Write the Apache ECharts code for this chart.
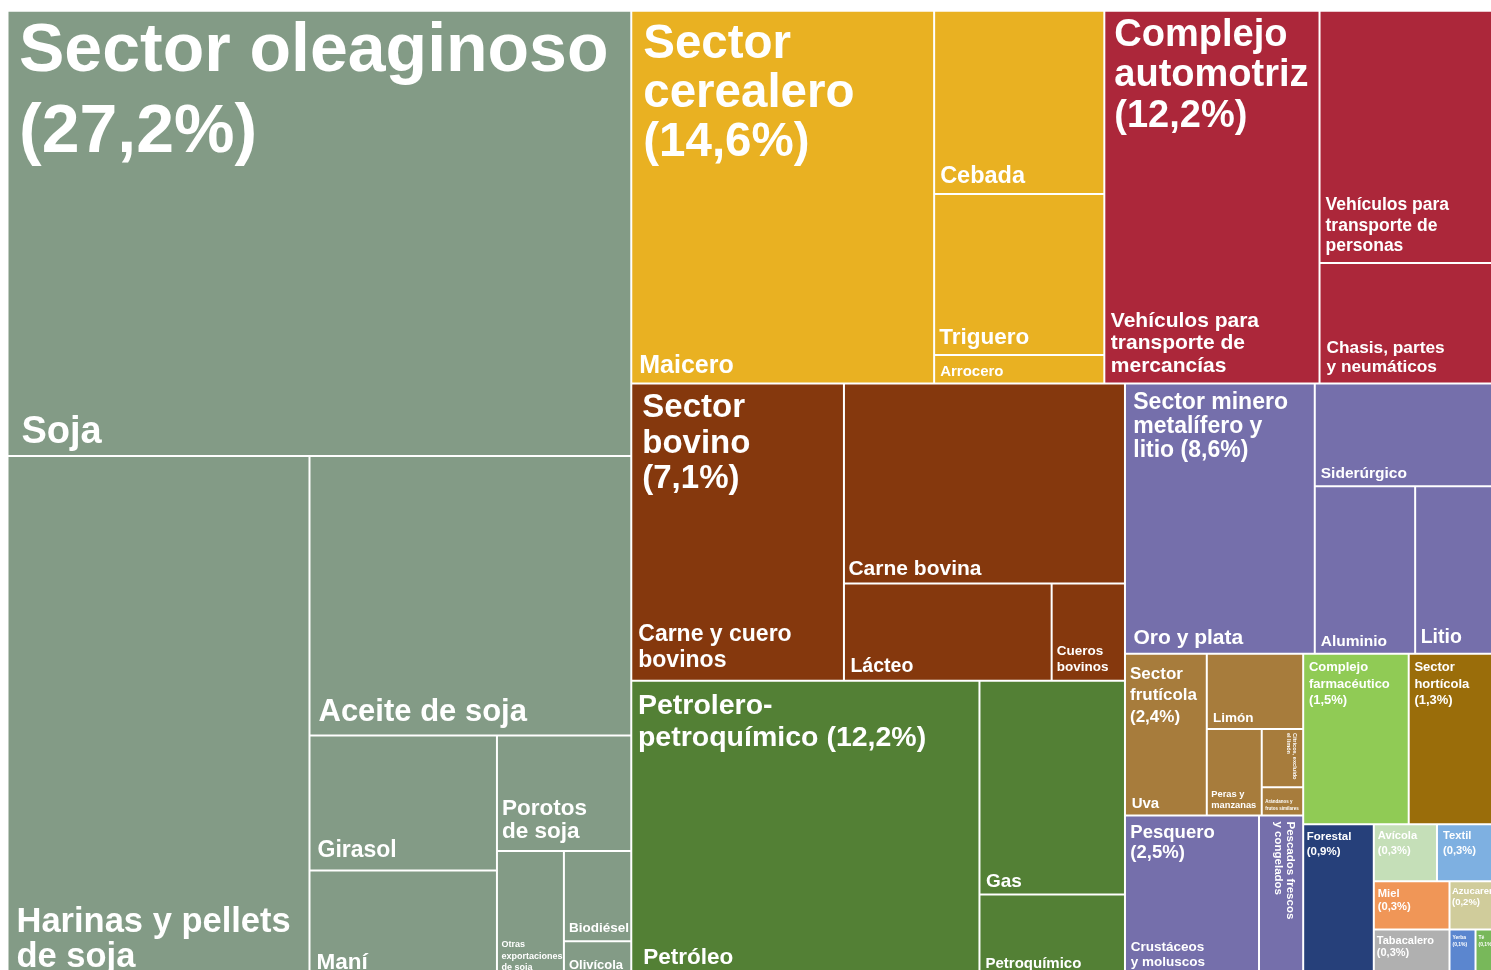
<!DOCTYPE html>
<html>
<head>
<meta charset="utf-8">
<title>Complejos exportadores</title>
<script src="https://cdn.jsdelivr.net/npm/echarts@6/dist/echarts.min.js"></script>
<style>
  html, body { margin: 0; padding: 0; background: #fff; overflow: hidden; }
  #chart { width: 1491px; height: 970px; }
</style>
</head>
<body>
<div id="chart"></div>
<script>
// sectors, in layout order
const sectors = ['Sector oleaginoso', 'Sector cerealero', 'Complejo automotriz', 'Sector bovino',
  'Petrolero-petroquímico', 'Sector minero metalífero y litio', 'Sector frutícola', 'Pesquero',
  'Complejo farmacéutico', 'Sector hortícola', 'Forestal', 'Avícola', 'Textil', 'Miel',
  'Tabacalero', 'Azucarero', 'Yerba', 'Té'];
const sectorShares = ['27,2%', '14,6%', '12,2%', '7,1%', '12,2%', '8,6%', '2,4%', '2,5%',
  '1,5%', '1,3%', '0,9%', '0,3%', '0,3%', '0,3%', '0,3%', '0,2%', '0,1%', '0,1%'];

// sub-items and their cell sizes (areas)
const oleaginosoItems = ['Soja', 'Harinas y pellets de soja', 'Aceite de soja', 'Girasol', 'Maní',
  'Porotos de soja', 'Otras exportaciones de soja', 'Biodiésel', 'Olivícola'];
const oleaginosoValues = [27778, 15764, 8994, 2529, 2017, 1552, 850, 608, 247];
const cerealeroItems = ['Maicero', 'Cebada', 'Triguero', 'Arrocero'];
const cerealeroValues = [11292, 3118, 2742, 485];
const automotrizItems = ['Vehículos para transporte de mercancías', 'Vehículos para transporte de personas',
  'Chasis, partes y neumáticos'];
const automotrizValues = [8024, 4568, 2179];
const bovinoItems = ['Carne y cuero bovinos', 'Carne bovina', 'Lácteo', 'Cueros bovinos'];
const bovinoValues = [6321, 5623, 2017, 712];
const petroleroItems = ['Petróleo', 'Gas', 'Petroquímico'];
const petroleroValues = [10352, 3111, 1215];
const mineroItems = ['Oro y plata', 'Siderúrgico', 'Aluminio', 'Litio'];
const mineroValues = [5130, 1908, 1682, 1430];
const fruticolaItems = ['Uva', 'Limón', 'Peras y manzanas', 'Cítricos, excluido el limón',
  'Arándanos y frutos similares'];
const fruticolaValues = [1323, 724, 476, 242, 117];
const pesqueroItems = ['Crustáceos y moluscos', 'Pescados frescos y congelados'];
const pesqueroValues = [2178, 718];
// sectors drawn as a single cell (Complejo farmacéutico ... Té)
const singleSectorValues = [1798, 1564, 1086, 361, 363, 365, 367, 246, 126, 121];

const sectorChildren = [
  [oleaginosoItems, oleaginosoValues], [cerealeroItems, cerealeroValues],
  [automotrizItems, automotrizValues], [bovinoItems, bovinoValues],
  [petroleroItems, petroleroValues], [mineroItems, mineroValues],
  [fruticolaItems, fruticolaValues], [pesqueroItems, pesqueroValues]
];

const sectorColors = ['#839b86', '#e9b122', '#ac273a', '#85380d', '#538035', '#756fab', '#a77c3c',
  '#756fab', '#90cb55', '#9a6d0a', '#26407a', '#c5dfb8', '#7eb0e1', '#f09657', '#b0b0b0',
  '#d0cc9b', '#5b86cf', '#78b85a'];

// how the titles break into lines (share is appended)
const titleWrap = ['Sector oleaginoso\n', 'Sector\ncerealero\n', 'Complejo\nautomotriz\n', 'Sector\nbovino\n',
  'Petrolero-\npetroquímico ', 'Sector minero\nmetalífero y\nlitio ', 'Sector\nfrutícola\n', 'Pesquero\n',
  'Complejo\nfarmacéutico\n', 'Sector\nhortícola\n', 'Forestal\n', 'Avícola\n', 'Textil\n', 'Miel\n',
  'Tabacalero\n', 'Azucarero\n', 'Yerba\n', 'Té\n'];

const itemWrap = {
  'Harinas y pellets de soja': 'Harinas y pellets\nde soja',
  'Porotos de soja': 'Porotos\nde soja',
  'Otras exportaciones de soja': 'Otras\nexportaciones\nde soja',
  'Vehículos para transporte de mercancías': 'Vehículos para\ntransporte de\nmercancías',
  'Vehículos para transporte de personas': 'Vehículos para\ntransporte de\npersonas',
  'Chasis, partes y neumáticos': 'Chasis, partes\ny neumáticos',
  'Carne y cuero bovinos': 'Carne y cuero\nbovinos',
  'Cueros bovinos': 'Cueros\nbovinos',
  'Peras y manzanas': 'Peras y\nmanzanas',
  'Cítricos, excluido el limón': 'Cítricos, excluido\nel limón',
  'Arándanos y frutos similares': 'Arándanos y\nfrutos similares',
  'Crustáceos y moluscos': 'Crustáceos\ny moluscos',
  'Pescados frescos y congelados': 'Pescados frescos\ny congelados'
};

// label look: [fontSize, lineHeight, padding, rotated]
const itemLabel = {
  'Soja': [38, 40, [0, 0, 4.6, 13]],
  'Harinas y pellets de soja': [34.5, 35, [0, 0, 4.5, 8]],
  'Aceite de soja': [31, 32, [0, 0, 8.3, 8]],
  'Girasol': [23, 24, [0, 0, 8.3, 7]],
  'Maní': [22.5, 24, [0, 0, 3.8, 6]],
  'Porotos de soja': [22.5, 23, [0, 0, 8, 4]],
  'Otras exportaciones de soja': [9, 11.5, [0, 0, 4, 3.5]],
  'Biodiésel': [13.5, 15, [0, 0, 5, 4]],
  'Olivícola': [13, 14, [0, 0, 5, 4]],
  'Maicero': [25, 26, [0, 0, 5.4, 7]],
  'Cebada': [23.5, 24, [0, 0, 6.2, 5]],
  'Triguero': [22.5, 24, [0, 0, 5.3, 4]],
  'Arrocero': [15, 16, [0, 0, 3.2, 5]],
  'Vehículos para transporte de mercancías': [21, 22.5, [0, 0, 6.5, 5.5]],
  'Vehículos para transporte de personas': [17.5, 20.5, [0, 0, 6.4, 5]],
  'Chasis, partes y neumáticos': [17.3, 19, [0, 0, 6.7, 6]],
  'Carne y cuero bovinos': [23, 26, [0, 0, 7.8, 6]],
  'Carne bovina': [21, 22, [0, 0, 3.3, 3.5]],
  'Lácteo': [19.5, 20, [0, 0, 4.8, 5.5]],
  'Cueros bovinos': [13.5, 16, [0, 0, 5.3, 4]],
  'Petróleo': [22.5, 24, [0, 0, 9, 11]],
  'Gas': [19, 20, [0, 0, 3, 5.5]],
  'Petroquímico': [15, 16, [0, 0, 6.6, 5]],
  'Oro y plata': [21, 22, [0, 0, 5, 7.5]],
  'Siderúrgico': [15.5, 16, [0, 0, 4.5, 5]],
  'Aluminio': [15.5, 16, [0, 0, 4.5, 5]],
  'Litio': [19.5, 20, [0, 0, 6.2, 4.5]],
  'Uva': [15, 16, [0, 0, 3.3, 5.7]],
  'Limón': [13.5, 14, [0, 0, 3.7, 5.3]],
  'Peras y manzanas': [9.3, 11.7, [0, 0, 3.5, 3.5]],
  'Cítricos, excluido el limón': [5.6, 6.5, [4, 0, 0, 3], true],
  'Arándanos y frutos similares': [4.5, 7.3, [0, 0, 2.3, 2.4]],
  'Crustáceos y moluscos': [13.5, 15, [0, 0, 7.8, 4.7]],
  'Pescados frescos y congelados': [11.5, 12.7, [4.6, 0, 0, 5], true]
};
// sector titles, written at the top left
const titleLabel = [
  [68, 81, [-4.5, 0, 0, 10.5]], [47.5, 49, [5.5, 0, 0, 11]], [38, 40.5, [1, 0, 0, 9]],
  [33, 35.5, [3.75, 0, 0, 10]], [28.5, 32, [7, 0, 0, 5.7]], [23, 24.3, [4.15, 0, 0, 7.3]],
  [17, 21.8, [7.1, 0, 0, 4]], [18.5, 20, [5, 0, 0, 4.4]],
  [13, 16.5, [3.75, 0, 0, 4.7]], [13, 16.5, [3.75, 0, 0, 4.7]], [11.5, 15, [3.5, 0, 0, 2.5]],
  [11.2, 14.7, [3, 0, 0, 3]], [11.2, 14.7, [3, 0, 0, 5]], [11.2, 13.4, [3.9, 0, 0, 3]],
  [11, 12.7, [3, 0, 0, 2]], [9.5, 10.7, [3, 0, 0, 1.5]], [5, 6.3, [3.9, 0, 0, 2]], [5, 6.3, [3.9, 0, 0, 2]]
];

const font = "'Liberation Sans', Arial, Helvetica, sans-serif";
const clear = 'rgba(0,0,0,0)';

function makeLabel(text, spec, position) {
  const fs = spec[0];
  const pad = spec[2].slice();
  // glyphs sit a little above the middle of the line box
  const lift = 0.065 * fs;
  const lab = { show: true, formatter: text, position: position, fontSize: fs, lineHeight: spec[1] };
  if (spec[3]) {
    // read top to bottom
    lab.position = 'insideTopRight';
    lab.rotate = -90;
    lab.align = 'left';
    lab.verticalAlign = 'top';
    pad[0] += lift;
  } else if (position === 'insideTopLeft') {
    pad[0] += lift;
  } else {
    pad[2] -= lift;
  }
  lab.padding = pad;
  return lab;
}

function titleOf(i) {
  return titleWrap[i] + '(' + sectorShares[i] + ')';
}

// cells layer (withTitles=false) or sector-title layer (withTitles=true)
function buildData(withTitles) {
  return sectors.map(function (name, i) {
    const style = withTitles ? { color: clear, borderColor: clear } : { color: sectorColors[i] };
    if (i >= sectorChildren.length) {
      return {
        name: name, value: singleSectorValues[i - sectorChildren.length], itemStyle: style,
        label: withTitles ? { show: false } : makeLabel(titleOf(i), titleLabel[i], 'insideTopLeft')
      };
    }
    const names = sectorChildren[i][0];
    const vals = sectorChildren[i][1];
    return {
      name: name, itemStyle: style,
      children: names.map(function (n, j) {
        let label;
        if (withTitles) {
          label = j === 0 ? makeLabel(titleOf(i), titleLabel[i], 'insideTopLeft') : { show: false };
        } else {
          label = makeLabel(itemWrap[n] || n, itemLabel[n], 'insideBottomLeft');
        }
        return { name: n, value: vals[j], itemStyle: style, label: label };
      })
    };
  });
}

function treemapSeries(withTitles) {
  return {
    type: 'treemap',
    left: 8.5, top: 11.7, width: 1491, height: 965.3,
    roam: false, nodeClick: false, sort: false, squareRatio: 1,
    breadcrumb: { show: false },
    drillDownIcon: '',
    silent: withTitles,
    itemStyle: { borderWidth: 0, gapWidth: 2, borderColor: withTitles ? clear : '#fff' },
    upperLabel: { show: false },
    label: {
      show: !withTitles, position: 'insideBottomLeft', distance: 0, padding: 0,
      color: '#fff', fontFamily: font, fontWeight: 'bold', overflow: 'none'
    },
    data: buildData(withTitles)
  };
}

const chart = echarts.init(document.getElementById('chart'));
chart.setOption({
  animation: false,
  backgroundColor: '#fff',
  textStyle: { fontFamily: font },
  tooltip: { show: false },
  series: [treemapSeries(false), treemapSeries(true)]
});
</script>
</body>
</html>
